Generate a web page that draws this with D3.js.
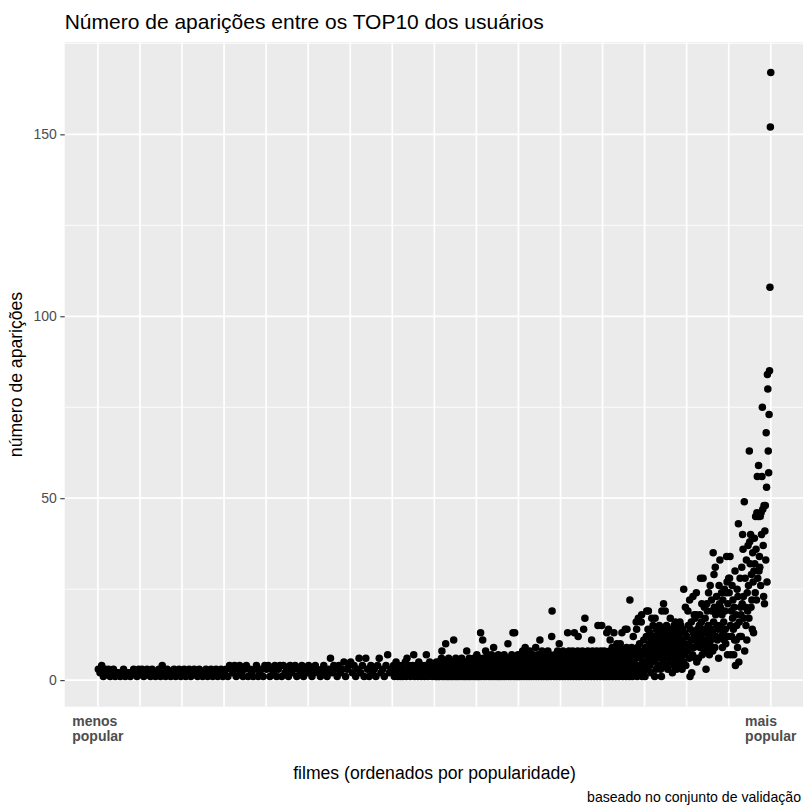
<!DOCTYPE html>
<html>
<head>
<meta charset="utf-8">
<script src="https://cdn.jsdelivr.net/npm/d3@7"></script>
<style>
  body { margin: 0; background: #fff; }
  svg { display: block; font-family: "Liberation Sans", Arial, sans-serif; }
</style>
</head>
<body>
<div id="chart"></div>
<script>
/* CONSTANTS AND GLOBALS */
const width = 803,
  height = 805,
  panel = { left: 64.7, right: 804.4, top: 42.3, bottom: 706.7 },
  radius = 3.75;

/* DATA */
// counts of appearances in the users' TOP10, films ordered by popularity (rank 1 .. 1600)
// each array covers 100 ranks; the first cells are sampled every 4 ranks, the next every 2, the rest every rank
const cellStart = [1, 101, 201, 301, 401, 501, 601, 701, 801, 901, 1001, 1101, 1201, 1301, 1401, 1501];
const cellStep = [4, 4, 4, 4, 4, 4, 4, 2, 1, 1, 1, 1, 1, 1, 1, 1];

const c01 = [3,2,4,1,3,2,3,1,2,3,1,2,2,1,2,3,1,2,2,1,2,3,2,1,3];
const c02 = [2,3,1,2,3,2,1,3,2,1,2,3,1,4,2,1,3,2,1,2,3,1,2,3,1];
const c03 = [2,3,1,2,3,1,2,3,2,1,3,2,1,2,3,1,2,3,1,2,3,1,2,3,1];
const c04 = [2,3,1,4,3,2,4,1,3,4,2,1,3,4,1,3,2,1,3,4,1,2,3,1,4];
const c05 = [3,4,1,3,2,4,1,3,4,1,4,2,3,1,4,2,3,4,1,3,2,4,1,3,2];
const c06 = [4,3,1,2,4,3,2,1,3,4,2,1,3,6,2,4,3,1,4,2,3,5,1,3,4];
const c07 = [5,2,4,1,3,6,2,4,1,6,3,1,4,2,3,1,4,6,2,3,1,4,7,2,3];
const c08 = [2,4,1,3,5,2,1,4,3,1, 2,4,1,3,2,5,1,6,3,2, 4,1,3,2,4,7,1,3,2,4,
  1,5,2,3,1,4,2,3,1,4, 7,2,1,3,5,2,4,1,3,2];
const c09 = [2,4,1,3,5,1,2,4,3,1, 5,2,1,3,4,2,6,8,1,3, 2,5,1,4,3,2,10,1,5,2,
  3,1,4,6,2,1,3,5,2,4, 1,3,2,5,1,11,4,2,3,1, 6,2,4,1,3,5,2,1,4,3,
  2,5,1,3,6,2,4,1,3,2, 5,1,4,2,3,1,8,5,2,4, 1,3,6,2,1,4,3,5,2,1,
  3,4,2,6,1,5,2,3,1,4];
const c10 = [7,2,4,1,5,3,1,6,2,13, 4,1,3,5,11,2,6,1,4,3, 2,8,1,5,3,7,2,4,1,6,
  3,2,5,1,4,7,2,3,1,6, 9,2,4,1,5,3,2,6,1,4, 3,7,1,2,5,4,1,3,6,2,
  4,1,5,3,2,7,1,4,2,6, 3,1,5,2,10,4,1,3,6,2, 5,1,4,7,2,3,13,1,5,2,
  13,4,1,6,3,2,5,1,7,3];
const c11 = [3,6,1,4,2,7,5,1,3,8, 2,4,6,1,5,9,3,2,7,1, 4,6,2,3,1,5,8,2,4,1,
  6,3,5,2,7,1,4,3,6,2, 9,1,5,3,2,7,4,1,6,3, 11,2,5,1,4,8,3,2,6,1,
  4,7,2,5,3,1,6,4,2,8, 1,3,5,7,2,4,1,6,12,19, 3,5,2,4,1,7,3,6,2,5,
  1,4,8,2,3,6,10,1,5,2];
const c12 = [4,7,2,5,1,8,3,6,2,4, 1,5,7,3,2,6,13,1,4,8, 2,5,3,1,7,4,6,2,8,3,
  1,5,13,2,4,7,3,1,6,2, 8,12,4,1,5,3,7,2,6,1, 4,8,3,5,14,2,6,17,1,4,
  7,3,2,5,8,1,6,4,3,7, 2,5,1,11,4,8,3,6,2,1, 5,7,3,4,2,8,1,6,15,3,
  5,2,7,1,4,8,3,15,6,2];
const c13 = [3,6,1,8,4,2,7,5,1,13, 3,6,2,14,5,1,8,11,4,2, 7,3,9,1,5,6,13,2,4,8,
  1,6,3,10,5,2,7,4,1,9, 3,10,6,2,5,13,8,1,4,7, 2,6,3,14,5,1,9,14,4,2,
  7,3,8,1,22,5,6,2,9,4, 1,7,12,3,5,8,2,6,4,16, 14,1,9,3,17,7,2,10,4,6,
  3,16,18,1,8,5,2,11,4,7];
const c14 = [1,9,5,12,19,7,3,14,19,6, 10,4,13,8,2,11,17,6,9,15, 5,12,7,1,17,10,3,14,8,11,
  6,13,4,9,15,7,12,3,10,1, 19,8,14,5,21,11,6,13,19,9, 4,15,7,12,3,10,8,14,6,11,
  17,5,9,13,7,2,12,10,4,15, 8,11,16,6,14,3,5,9,13,7, 12,10,4,16,8,15,6,11,3,14,
  9,5,25,7,13,10,20,4,12,8];
const c15 = [12,8,19,15,10,6,22,1,14,9, 16,2,11,7,23,13,9,18,12,17, 6,18,24,5,10,14,13,6,11,15,
  18,9,28,12,16,21,7,13,28,10, 14,20,8,17,11,3,13,21,19,9, 15,24,12,7,10,26,11,14,22,19,
  13,8,35,16,29,20,9,31,18,12, 23,15,11,19,14,6,26,21,33,20, 15,12,24,18,9,22,13,16,11,25,
  19,14,10,24,34,27,7,21,12,28];
const c16 = [24,28,34,15,7,19,12,26,17,22, 14,7,20,11,30,4,18,11,15,25, 9,23,43,5,16,12,28,20,18,12,
  31,21,40,36,23,17,49,8,28,20, 15,33,11,24,19,37,26,17,63,38, 32,40,20,29,22,14,35,27,13,30,
  39,32,24,45,36,22,46,56,28,45, 59,30,34,31,45,26,46,40,56,75, 47,37,23,48,21,41,48,33,68,53,
  27,84,80,63,57,73,85,108,152,167];

const cells = [c01, c02, c03, c04, c05, c06, c07, c08, c09, c10, c11, c12, c13, c14, c15, c16];

// axis breaks and labels
const xBreaks = [0, 100, 200, 300, 400, 500, 600, 700, 800, 900, 1000, 1100, 1200, 1300, 1400, 1500, 1600];
const xLabelBreaks = [0, 1600];
const xLabels = [["menos", "popular"], ["mais", "popular"]];
const yMajor = [0, 50, 100, 150];
const yMinor = [25, 75, 125, 175];

const titleText = "Número de aparições entre os TOP10 dos usuários";
const xTitle = "filmes (ordenados por popularidade)";
const yTitle = "número de aparições";
const captionText = "baseado no conjunto de validação";

// build the point list
let points = [];
cells.forEach((vals, k) => {
  vals.forEach((v, i) => points.push({ rank: cellStart[k] + i * cellStep[k], count: v }));
});

/* SCALES */
const xExt = [1, 1600];
const xPad = (xExt[1] - xExt[0]) * 0.05;
const xScale = d3.scaleLinear()
  .domain([xExt[0] - xPad, xExt[1] + xPad])
  .range([panel.left, panel.right]);

const yExt = d3.extent(points, d => d.count);
const yPad = (yExt[1] - yExt[0]) * 0.05;
const yScale = d3.scaleLinear()
  .domain([yExt[0] - yPad, yExt[1] + yPad])
  .range([panel.bottom, panel.top]);

/* SVG */
const svg = d3.select("#chart")
  .append("svg")
  .attr("width", width)
  .attr("height", height);

svg.append("defs").append("clipPath")
  .attr("id", "panel-clip")
  .append("rect")
  .attr("x", panel.left)
  .attr("y", panel.top)
  .attr("width", panel.right - panel.left)
  .attr("height", panel.bottom - panel.top);

// panel background
svg.append("rect")
  .attr("x", panel.left)
  .attr("y", panel.top)
  .attr("width", panel.right - panel.left)
  .attr("height", panel.bottom - panel.top)
  .attr("fill", "#EBEBEB");

const grid = svg.append("g").attr("clip-path", "url(#panel-clip)");

grid.selectAll(".y-minor")
  .data(yMinor)
  .join("line")
  .attr("class", "y-minor")
  .attr("x1", panel.left).attr("x2", panel.right)
  .attr("y1", d => yScale(d)).attr("y2", d => yScale(d))
  .attr("stroke", "#fff")
  .attr("stroke-width", 0.85);

grid.selectAll(".y-major")
  .data(yMajor)
  .join("line")
  .attr("class", "y-major")
  .attr("x1", panel.left).attr("x2", panel.right)
  .attr("y1", d => yScale(d)).attr("y2", d => yScale(d))
  .attr("stroke", "#fff")
  .attr("stroke-width", 1.7);

grid.selectAll(".x-major")
  .data(xBreaks)
  .join("line")
  .attr("class", "x-major")
  .attr("y1", panel.top).attr("y2", panel.bottom)
  .attr("x1", d => xScale(d)).attr("x2", d => xScale(d))
  .attr("stroke", "#fff")
  .attr("stroke-width", 1.7);

// points
svg.append("g")
  .attr("clip-path", "url(#panel-clip)")
  .selectAll("circle")
  .data(points)
  .join("circle")
  .attr("cx", d => xScale(d.rank))
  .attr("cy", d => yScale(d.count))
  .attr("r", radius)
  .attr("fill", "#000");

/* AXES */
const yAxis = d3.axisLeft(yScale)
  .tickValues(yMajor)
  .tickSize(4.4)
  .tickPadding(3.4);

const yAxisGroup = svg.append("g")
  .attr("transform", `translate(${panel.left}, 0)`)
  .call(yAxis);
yAxisGroup.select(".domain").remove();
yAxisGroup.selectAll("line").attr("stroke", "#333333").attr("stroke-width", 1.1);
yAxisGroup.selectAll("text")
  .attr("fill", "#4D4D4D")
  .attr("font-size", 14)
  .attr("font-family", "Liberation Sans, Arial, sans-serif");

// x labels: two lines, left-aligned block centred on the break
const xLabelGroups = svg.selectAll(".x-label")
  .data(xLabelBreaks)
  .join("g")
  .attr("class", "x-label");

xLabelGroups.each(function (d, i) {
  const g = d3.select(this);
  const txt = g.append("text")
    .attr("font-size", 14)
    .attr("font-weight", "bold")
    .attr("fill", "#4D4D4D");
  xLabels[i].forEach((line, j) => {
    txt.append("tspan")
      .attr("x", 0)
      .attr("y", 726 + j * 14.5)
      .text(line);
  });
  const w = d3.max(txt.selectAll("tspan").nodes(), n => n.getComputedTextLength());
  g.attr("transform", `translate(${xScale(d) - w / 2}, 0)`);
});

/* TITLES */
svg.append("text")
  .attr("x", panel.left)
  .attr("y", 28.5)
  .attr("font-size", 21)
  .attr("fill", "#000")
  .text(titleText);

svg.append("text")
  .attr("x", (panel.left + panel.right) / 2)
  .attr("y", 779)
  .attr("text-anchor", "middle")
  .attr("font-size", 17.6)
  .attr("fill", "#000")
  .text(xTitle);

svg.append("text")
  .attr("transform", `translate(22, ${(panel.top + panel.bottom) / 2}) rotate(-90)`)
  .attr("text-anchor", "middle")
  .attr("font-size", 17.6)
  .attr("fill", "#000")
  .text(yTitle);

svg.append("text")
  .attr("x", 801)
  .attr("y", 802)
  .attr("text-anchor", "end")
  .attr("font-size", 14.1)
  .attr("fill", "#000")
  .text(captionText);
</script>
</body>
</html>
